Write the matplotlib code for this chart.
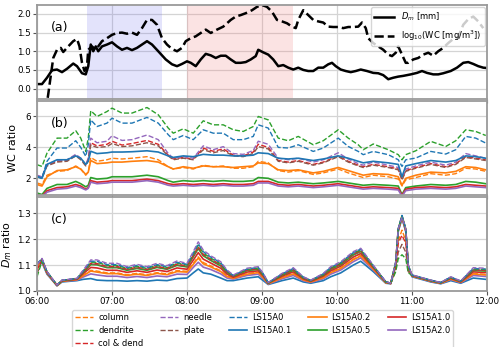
import numpy as np
import matplotlib
matplotlib.use("Agg")
import matplotlib.pyplot as plt

# -----------------------------------------------------------------------------
# DATA (minutes after 06:00)
# -----------------------------------------------------------------------------
t_dm = [0, 4, 8, 12, 16, 20, 24, 29, 32, 36, 39, 41, 43, 45, 47, 49, 52, 56, 60, 64,
        68, 72, 76, 80, 84, 88, 92, 97, 103, 108, 112, 116, 120, 123, 127, 131, 135, 139, 143, 147,
        151, 155, 159, 163, 167, 171, 175, 177, 181, 185, 189, 193, 197, 201, 205, 209, 213, 217, 221, 225,
        229, 233, 236, 239, 243, 247, 251, 255, 259, 264, 269, 273, 277, 281, 285, 289, 293, 299, 304, 308,
        312, 317, 321, 325, 331, 336, 341, 345, 349, 353, 357, 360]
dm = [0.12, 0.12, 0.29, 0.49, 0.51, 0.44, 0.53, 0.67, 0.6, 0.41, 0.38, 0.6, 1.18, 1.0, 1.13, 1.0, 1.13, 1.18, 1.24, 1.13,
      1.04, 1.09, 1.03, 1.09, 1.18, 1.27, 1.18, 1.0, 0.78, 0.65, 0.6, 0.66, 0.73, 0.69, 0.6, 0.78, 0.93, 0.89, 0.82, 0.88,
      0.88, 0.78, 0.69, 0.69, 0.71, 0.78, 0.87, 1.04, 0.97, 0.91, 0.78, 0.6, 0.63, 0.56, 0.51, 0.56, 0.5, 0.47, 0.47, 0.56,
      0.56, 0.65, 0.69, 0.6, 0.51, 0.47, 0.44, 0.47, 0.51, 0.47, 0.42, 0.41, 0.36, 0.25, 0.29, 0.32, 0.34, 0.38, 0.42, 0.47,
      0.42, 0.38, 0.38, 0.41, 0.47, 0.56, 0.69, 0.71, 0.66, 0.6, 0.56, 0.55]

t_wc = [7, 9, 11, 13, 16, 19, 21, 25, 29, 32, 34, 36, 38, 40, 41, 44, 47, 49, 52, 56,
        60, 64, 68, 72, 76, 80, 84, 88, 92, 96, 100, 104, 108, 112, 116, 119, 123, 127, 131, 135,
        139, 144, 149, 155, 159, 163, 167, 172, 176, 180, 184, 188, 192, 196, 200, 204, 207, 209, 213, 217,
        221, 225, 229, 233, 237, 241, 245, 249, 253, 257, 260, 263, 265, 269, 273, 277, 281, 284, 287, 289,
        292, 295, 297, 301, 305, 309, 313, 317, 321, 325, 329, 333, 337, 341, 345, 349, 353, 357]
log_wc = [-0.6, -0.15, 0.34, 0.82, 1.04, 1.09, 0.98, 1.13, 1.27, 1.33, 1.13, 0.69, 0.47, 0.6, 1.04, 1.13, 1.04, 1.13, 1.27, 1.35,
          1.44, 1.49, 1.5, 1.47, 1.5, 1.44, 1.62, 1.84, 1.84, 1.71, 1.35, 1.18, 1.06, 1.0, 1.09, 1.27, 1.35, 1.4, 1.49, 1.58,
          1.49, 1.58, 1.66, 1.84, 1.93, 1.97, 2.02, 2.1, 2.19, 2.24, 2.19, 2.06, 1.84, 1.8, 1.75, 1.66, 1.62, 1.84, 2.1, 1.97,
          1.84, 1.8, 1.77, 1.66, 1.65, 1.65, 1.62, 1.65, 1.65, 1.66, 1.77, 1.62, 1.35, 1.22, 1.13, 1.04, 0.91, 0.87, 0.96, 1.13,
          0.91, 0.69, 0.69, 0.78, 0.82, 0.91, 0.96, 0.88, 1.0, 1.09, 1.22, 1.33, 1.38, 1.71, 1.86, 1.93, 1.8, 1.62]

labels = ["column", "dendrite", "col & dend", "needle", "plate",
          "LS15A0", "LS15A0.1", "LS15A0.2", "LS15A0.5", "LS15A1.0", "LS15A2.0"]

# panel (b): WC ratio
t_b = [0, 4, 8, 16, 24, 31, 35, 39, 41, 43, 48, 56, 60, 68, 76, 88, 97, 105, 109, 117,
       125, 133, 141, 149, 157, 165, 173, 177, 185, 193, 201, 209, 221, 229, 241, 249, 257, 261, 269, 281,
       289, 292, 295, 303, 315, 327, 335, 343, 351, 359]
wc_column = [1.7, 1.6, 2.2, 2.45, 2.5, 2.8, 2.6, 2.2, 2.4, 3.35, 3.1, 3.2, 3.3, 3.25, 3.3, 3.4, 3.2, 2.75, 2.6, 2.7,
             2.6, 2.85, 2.75, 2.8, 2.65, 2.65, 2.75, 3.1, 3.0, 2.5, 2.4, 2.5, 2.25, 2.35, 2.6, 2.35, 2.15, 2.05, 2.2, 2.1,
             1.95, 1.5, 1.9, 2.05, 2.3, 2.2, 2.3, 2.65, 2.6, 2.45]
wc_dendrite = [2.88, 2.77, 3.63, 4.6, 4.6, 5.08, 4.6, 3.74, 4.6, 6.37, 6.0, 6.32, 6.54, 6.22, 6.22, 6.58, 6.11, 5.25, 4.92, 5.2,
               4.92, 5.72, 5.46, 5.46, 5.14, 5.03, 5.35, 6.0, 5.78, 4.6, 4.43, 4.71, 4.17, 4.43, 5.14, 4.6, 4.17, 3.85, 4.22, 3.85,
               3.53, 3.2, 3.53, 3.78, 4.39, 4.06, 4.43, 5.14, 5.03, 4.77]
wc_coldend = [2.15, 2.05, 2.85, 3.1, 3.15, 3.5, 3.25, 2.85, 3.2, 4.3, 4.1, 4.2, 4.4, 4.15, 4.25, 4.45, 4.2, 3.5, 3.25, 3.35,
              3.25, 3.95, 3.75, 3.9, 3.5, 3.45, 3.7, 4.2, 4.0, 3.15, 3.05, 3.15, 2.9, 3.05, 3.45, 3.1, 2.85, 2.75, 2.9, 2.75,
              2.6, 1.95, 2.5, 2.7, 2.95, 2.75, 2.95, 3.4, 3.3, 3.2]
wc_needle = [2.2, 2.1, 2.9, 3.15, 3.2, 3.55, 3.3, 2.9, 3.3, 4.6, 4.3, 4.4, 4.75, 4.45, 4.5, 4.8, 4.5, 3.6, 3.3, 3.4,
             3.3, 4.1, 3.85, 4.05, 3.6, 3.55, 3.8, 4.4, 4.2, 3.3, 3.2, 3.3, 3.05, 3.2, 3.65, 3.25, 2.95, 2.85, 3.05, 2.85,
             2.7, 2.0, 2.6, 2.8, 3.05, 2.85, 3.05, 3.6, 3.45, 3.3]
wc_plate = [2.1, 2.0, 2.8, 3.05, 3.1, 3.45, 3.2, 2.8, 3.15, 4.15, 4.0, 4.05, 4.25, 4.05, 4.1, 4.3, 4.1, 3.45, 3.2, 3.3,
            3.2, 3.85, 3.65, 3.8, 3.45, 3.4, 3.6, 4.05, 3.9, 3.1, 3.0, 3.1, 2.85, 3.0, 3.4, 3.05, 2.8, 2.7, 2.85, 2.7,
            2.55, 1.9, 2.45, 2.65, 2.9, 2.7, 2.9, 3.35, 3.25, 3.15]
wc_a0 = [2.13, 2.02, 3.1, 3.96, 3.96, 4.43, 4.0, 3.42, 4.17, 5.78, 5.35, 5.57, 5.89, 5.57, 5.57, 5.94, 5.57, 4.82, 4.5, 4.77,
         4.5, 5.14, 4.92, 4.92, 4.5, 4.5, 4.71, 5.46, 5.25, 4.0, 3.96, 4.17, 3.74, 3.96, 4.6, 4.06, 3.74, 3.53, 3.74, 3.53,
         3.2, 2.77, 3.2, 3.31, 3.74, 3.57, 3.85, 4.71, 4.6, 4.28]
wc_a01 = [2.1, 2.0, 2.9, 3.2, 3.2, 3.45, 3.3, 2.9, 3.1, 3.75, 3.6, 3.65, 3.7, 3.7, 3.72, 3.78, 3.7, 3.45, 3.35, 3.45,
          3.4, 3.55, 3.5, 3.5, 3.45, 3.45, 3.5, 3.65, 3.6, 3.3, 3.25, 3.3, 3.15, 3.25, 3.45, 3.3, 3.1, 3.0, 3.1, 3.0,
          2.9, 2.1, 2.8, 2.95, 3.15, 3.05, 3.15, 3.45, 3.4, 3.3]
wc_a02 = [1.6, 1.5, 2.1, 2.5, 2.55, 2.75, 2.6, 2.25, 2.4, 3.15, 2.95, 3.0, 3.05, 3.05, 3.1, 3.15, 3.05, 2.75, 2.6, 2.75,
          2.65, 2.8, 2.75, 2.75, 2.7, 2.75, 2.8, 3.0, 2.95, 2.55, 2.5, 2.55, 2.35, 2.45, 2.7, 2.5, 2.3, 2.2, 2.3, 2.25,
          2.1, 1.55, 2.0, 2.2, 2.4, 2.35, 2.45, 2.75, 2.7, 2.55]
wc_a05 = [1.05, 0.95, 1.35, 1.6, 1.6, 1.8, 1.65, 1.45, 1.55, 2.05, 1.95, 2.0, 2.1, 2.1, 2.1, 2.2, 2.1, 1.85, 1.75, 1.85,
          1.8, 1.85, 1.8, 1.85, 1.8, 1.8, 1.85, 2.05, 2.0, 1.75, 1.7, 1.75, 1.65, 1.7, 1.8, 1.7, 1.6, 1.55, 1.6, 1.55,
          1.5, 0.95, 1.4, 1.5, 1.6, 1.55, 1.6, 1.8, 1.75, 1.65]
wc_a10 = [0.95, 0.85, 1.2, 1.4, 1.45, 1.6, 1.5, 1.3, 1.4, 1.85, 1.75, 1.8, 1.85, 1.85, 1.85, 1.95, 1.85, 1.65, 1.6, 1.65,
          1.6, 1.65, 1.6, 1.65, 1.6, 1.6, 1.65, 1.8, 1.8, 1.6, 1.55, 1.6, 1.5, 1.55, 1.65, 1.55, 1.45, 1.4, 1.45, 1.4,
          1.35, 0.9, 1.3, 1.4, 1.45, 1.4, 1.45, 1.6, 1.55, 1.5]
wc_a20 = [0.9, 0.8, 1.1, 1.3, 1.35, 1.5, 1.4, 1.25, 1.35, 1.75, 1.65, 1.7, 1.75, 1.75, 1.75, 1.85, 1.75, 1.55, 1.5, 1.55,
          1.5, 1.55, 1.5, 1.55, 1.5, 1.5, 1.55, 1.7, 1.7, 1.5, 1.45, 1.5, 1.4, 1.45, 1.55, 1.45, 1.35, 1.3, 1.35, 1.3,
          1.25, 0.85, 1.2, 1.3, 1.35, 1.3, 1.35, 1.5, 1.45, 1.4]

# panel (c): Dm ratio
t_c = [0, 4, 8, 16, 20, 32, 37, 43, 48, 56, 64, 72, 80, 88, 96, 104, 112, 120, 125, 129,
       133, 139, 147, 152, 157, 168, 177, 181, 185, 196, 205, 213, 219, 229, 235, 243, 253, 259, 269, 279,
       283, 287, 289, 292, 295, 297, 300, 315, 323, 331, 339, 349, 359]
dr_column = [1.090, 1.117, 1.070, 1.021, 1.038, 1.044, 1.061, 1.080, 1.077, 1.070, 1.070, 1.063, 1.068, 1.063, 1.071, 1.066, 1.079, 1.076, 1.107, 1.132,
             1.110, 1.097, 1.078, 1.058, 1.050, 1.067, 1.073, 1.053, 1.029, 1.053, 1.068, 1.044, 1.035, 1.053, 1.073, 1.089, 1.123, 1.138, 1.086, 1.033,
             1.029, 1.090, 1.195, 1.235, 1.195, 1.085, 1.058, 1.038, 1.030, 1.047, 1.034, 1.068, 1.064]
dr_dendrite = [1.055, 1.115, 1.074, 1.023, 1.041, 1.048, 1.077, 1.111, 1.111, 1.099, 1.099, 1.087, 1.095, 1.087, 1.099, 1.091, 1.108, 1.100, 1.142, 1.177,
               1.147, 1.127, 1.105, 1.076, 1.059, 1.083, 1.089, 1.065, 1.032, 1.065, 1.085, 1.053, 1.041, 1.065, 1.089, 1.108, 1.146, 1.159, 1.097, 1.035,
               1.030, 1.075, 1.125, 1.140, 1.125, 1.070, 1.061, 1.041, 1.032, 1.053, 1.038, 1.085, 1.083]
dr_coldend = [1.080, 1.121, 1.073, 1.022, 1.041, 1.047, 1.075, 1.107, 1.106, 1.095, 1.095, 1.084, 1.092, 1.084, 1.095, 1.088, 1.104, 1.097, 1.137, 1.171,
              1.142, 1.123, 1.102, 1.074, 1.058, 1.081, 1.087, 1.063, 1.032, 1.063, 1.083, 1.051, 1.040, 1.063, 1.087, 1.105, 1.143, 1.156, 1.096, 1.035,
              1.030, 1.095, 1.185, 1.215, 1.185, 1.085, 1.061, 1.041, 1.032, 1.052, 1.037, 1.083, 1.080]
dr_needle = [1.100, 1.126, 1.075, 1.023, 1.042, 1.049, 1.081, 1.120, 1.120, 1.107, 1.107, 1.094, 1.103, 1.094, 1.107, 1.098, 1.116, 1.107, 1.152, 1.190,
             1.158, 1.136, 1.113, 1.081, 1.062, 1.088, 1.094, 1.068, 1.033, 1.068, 1.090, 1.055, 1.042, 1.068, 1.094, 1.113, 1.152, 1.165, 1.100, 1.036,
             1.030, 1.113, 1.240, 1.285, 1.240, 1.100, 1.062, 1.042, 1.033, 1.055, 1.039, 1.090, 1.088]
dr_plate = [1.065, 1.120, 1.073, 1.022, 1.040, 1.047, 1.073, 1.104, 1.103, 1.092, 1.092, 1.082, 1.089, 1.082, 1.093, 1.085, 1.101, 1.094, 1.134, 1.167,
            1.139, 1.120, 1.099, 1.072, 1.057, 1.080, 1.085, 1.062, 1.031, 1.062, 1.081, 1.051, 1.039, 1.062, 1.085, 1.104, 1.141, 1.154, 1.095, 1.035,
            1.030, 1.080, 1.150, 1.180, 1.150, 1.075, 1.060, 1.040, 1.032, 1.052, 1.037, 1.081, 1.079]
dr_a0 = [1.105, 1.125, 1.074, 1.023, 1.042, 1.048, 1.078, 1.115, 1.115, 1.102, 1.102, 1.090, 1.099, 1.090, 1.102, 1.094, 1.111, 1.103, 1.146, 1.183,
         1.152, 1.131, 1.109, 1.078, 1.060, 1.085, 1.091, 1.066, 1.032, 1.066, 1.087, 1.054, 1.041, 1.066, 1.091, 1.110, 1.148, 1.162, 1.098, 1.036,
         1.030, 1.112, 1.241, 1.292, 1.241, 1.099, 1.062, 1.042, 1.033, 1.054, 1.038, 1.087, 1.085]
dr_a01 = [1.090, 1.110, 1.065, 1.020, 1.035, 1.040, 1.045, 1.048, 1.042, 1.040, 1.040, 1.038, 1.040, 1.038, 1.042, 1.040, 1.048, 1.050, 1.070, 1.085,
          1.070, 1.065, 1.050, 1.040, 1.040, 1.050, 1.055, 1.040, 1.025, 1.040, 1.050, 1.035, 1.030, 1.040, 1.055, 1.070, 1.100, 1.115, 1.075, 1.030,
          1.028, 1.100, 1.230, 1.280, 1.230, 1.090, 1.055, 1.035, 1.028, 1.040, 1.030, 1.050, 1.045]
dr_a02 = [1.098, 1.116, 1.069, 1.021, 1.038, 1.044, 1.059, 1.077, 1.073, 1.067, 1.067, 1.060, 1.065, 1.060, 1.068, 1.063, 1.075, 1.073, 1.103, 1.127,
          1.105, 1.093, 1.075, 1.056, 1.049, 1.065, 1.071, 1.051, 1.028, 1.051, 1.066, 1.043, 1.035, 1.051, 1.071, 1.087, 1.121, 1.135, 1.085, 1.032,
          1.029, 1.105, 1.235, 1.285, 1.235, 1.094, 1.058, 1.038, 1.030, 1.046, 1.034, 1.066, 1.062]
dr_a05 = [1.105, 1.122, 1.073, 1.022, 1.040, 1.047, 1.072, 1.102, 1.101, 1.090, 1.090, 1.080, 1.087, 1.080, 1.091, 1.084, 1.099, 1.093, 1.132, 1.164,
          1.136, 1.118, 1.097, 1.071, 1.057, 1.079, 1.084, 1.061, 1.031, 1.061, 1.080, 1.050, 1.039, 1.061, 1.084, 1.102, 1.139, 1.153, 1.094, 1.035,
          1.030, 1.110, 1.239, 1.290, 1.239, 1.098, 1.060, 1.040, 1.032, 1.051, 1.037, 1.080, 1.077]
dr_a10 = [1.102, 1.120, 1.071, 1.022, 1.039, 1.045, 1.067, 1.091, 1.089, 1.080, 1.080, 1.072, 1.078, 1.072, 1.081, 1.075, 1.089, 1.084, 1.119, 1.148,
          1.123, 1.108, 1.088, 1.065, 1.053, 1.073, 1.078, 1.057, 1.030, 1.057, 1.074, 1.047, 1.037, 1.057, 1.078, 1.096, 1.131, 1.145, 1.090, 1.034,
          1.029, 1.108, 1.237, 1.288, 1.237, 1.096, 1.059, 1.039, 1.031, 1.049, 1.035, 1.074, 1.071]
dr_a20 = [1.095, 1.114, 1.068, 1.021, 1.037, 1.042, 1.054, 1.066, 1.062, 1.057, 1.057, 1.052, 1.056, 1.052, 1.058, 1.055, 1.065, 1.064, 1.091, 1.111,
          1.092, 1.083, 1.066, 1.050, 1.046, 1.060, 1.065, 1.047, 1.027, 1.047, 1.060, 1.040, 1.033, 1.047, 1.065, 1.081, 1.113, 1.128, 1.081, 1.032,
          1.029, 1.103, 1.233, 1.283, 1.233, 1.093, 1.057, 1.037, 1.029, 1.044, 1.032, 1.060, 1.056]

# -----------------------------------------------------------------------------
# STYLE
# -----------------------------------------------------------------------------
_SPINE = "#9a9a9a"
_GRID = "#d4d4d4"
colors = ["C1", "C2", "C3", "C4", "C5", "C0", "C0", "C1", "C2", "C3", "C4"]
styles = ["--"] * 6 + ["-"] * 5
widths = [1.0] * 6 + [1.2] * 5

plt.rcParams.update({"font.family": "DejaVu Sans", "font.size": 6})


def hours(mins):
    return 6 + np.asarray(mins) / 60.0


def style_axes(ax):
    for s in ax.spines.values():
        s.set_color(_SPINE)
        s.set_linewidth(1.3)
    ax.grid(True, color=_GRID, lw=0.9)
    ax.set_axisbelow(True)
    ax.set_xlim(6, 12)
    ax.set_xticks(range(6, 13))
    ax.tick_params(labelsize=6.3, length=3, color="#555555", pad=1.5)


fig = plt.figure(figsize=(5.0, 3.47), dpi=100)
ax_a = fig.add_axes([0.074, 0.7147, 0.9, 0.2709])
ax_b = fig.add_axes([0.074, 0.4380, 0.9, 0.2709])
ax_c = fig.add_axes([0.074, 0.1614, 0.9, 0.2709])

# -- (a) ----------------------------------------------------------------------
ax_a.axvspan(hours(40), hours(100), color="#6666ee", alpha=0.18, lw=0)
ax_a.axvspan(hours(120), hours(205), color="#f08080", alpha=0.22, lw=0)
ax_a.plot(hours(t_dm), dm, color="black", lw=1.8, label="$D_m$ [mm]")
ax_a.plot(hours(t_wc), log_wc, color="black", lw=1.8, ls="--",
          label="log$_{10}$(WC [mg/m$^3$])")
ax_a.set_ylim(-0.28, 2.24)
ax_a.set_yticks([0.0, 0.5, 1.0, 1.5, 2.0])
ax_a.legend(loc="upper right", fontsize=6, framealpha=0.8, borderpad=0.4,
            handlelength=2.4, labelspacing=0.6, borderaxespad=0.3)

# -- (b) ----------------------------------------------------------------------
wc_series = [wc_column, wc_dendrite, wc_coldend, wc_needle, wc_plate,
             wc_a0, wc_a01, wc_a02, wc_a05, wc_a10, wc_a20]
for vals, c, ls, lw, lab in zip(wc_series, colors, styles, widths, labels):
    ax_b.plot(hours(t_b), vals, color=c, ls=ls, lw=lw, label=lab)
ax_b.set_ylim(0.92, 7.0)
ax_b.set_yticks([2, 4, 6])
ax_b.set_ylabel("WC ratio", fontsize=8)
ax_b.yaxis.set_label_coords(-0.043, 0.5)

# -- (c) ----------------------------------------------------------------------
dr_series = [dr_column, dr_dendrite, dr_coldend, dr_needle, dr_plate,
             dr_a0, dr_a01, dr_a02, dr_a05, dr_a10, dr_a20]
order = [6, 10, 7, 0, 9, 8, 4, 2, 1, 5, 3]
for i in order:
    ax_c.plot(hours(t_c), dr_series[i], color=colors[i], ls=styles[i],
              lw=widths[i], label=labels[i])
ax_c.set_ylim(1.0, 1.363)
ax_c.set_yticks([1.0, 1.1, 1.2, 1.3])
ax_c.set_ylabel("$D_m$ ratio", fontsize=8)
ax_c.yaxis.set_label_coords(-0.052, 0.5)

for ax, tag in [(ax_a, "(a)"), (ax_b, "(b)"), (ax_c, "(c)")]:
    style_axes(ax)
    ax.text(0.03, 0.72, tag, transform=ax.transAxes, fontsize=9)

ax_a.set_xticklabels([])
ax_b.set_xticklabels([])
ax_c.set_xticklabels([f"{h:02d}:00" for h in range(6, 13)])

handles, labs = ax_b.get_legend_handles_labels()
fig.legend(handles, labs, loc="upper center", bbox_to_anchor=(0.525, 0.118),
           ncol=5, fontsize=6, framealpha=0.8, handlelength=2.2,
           handletextpad=0.6, columnspacing=2.0, labelspacing=0.45,
           borderpad=0.35)

fig.savefig("out.png", dpi=100, facecolor="white")
plt.close(fig)
